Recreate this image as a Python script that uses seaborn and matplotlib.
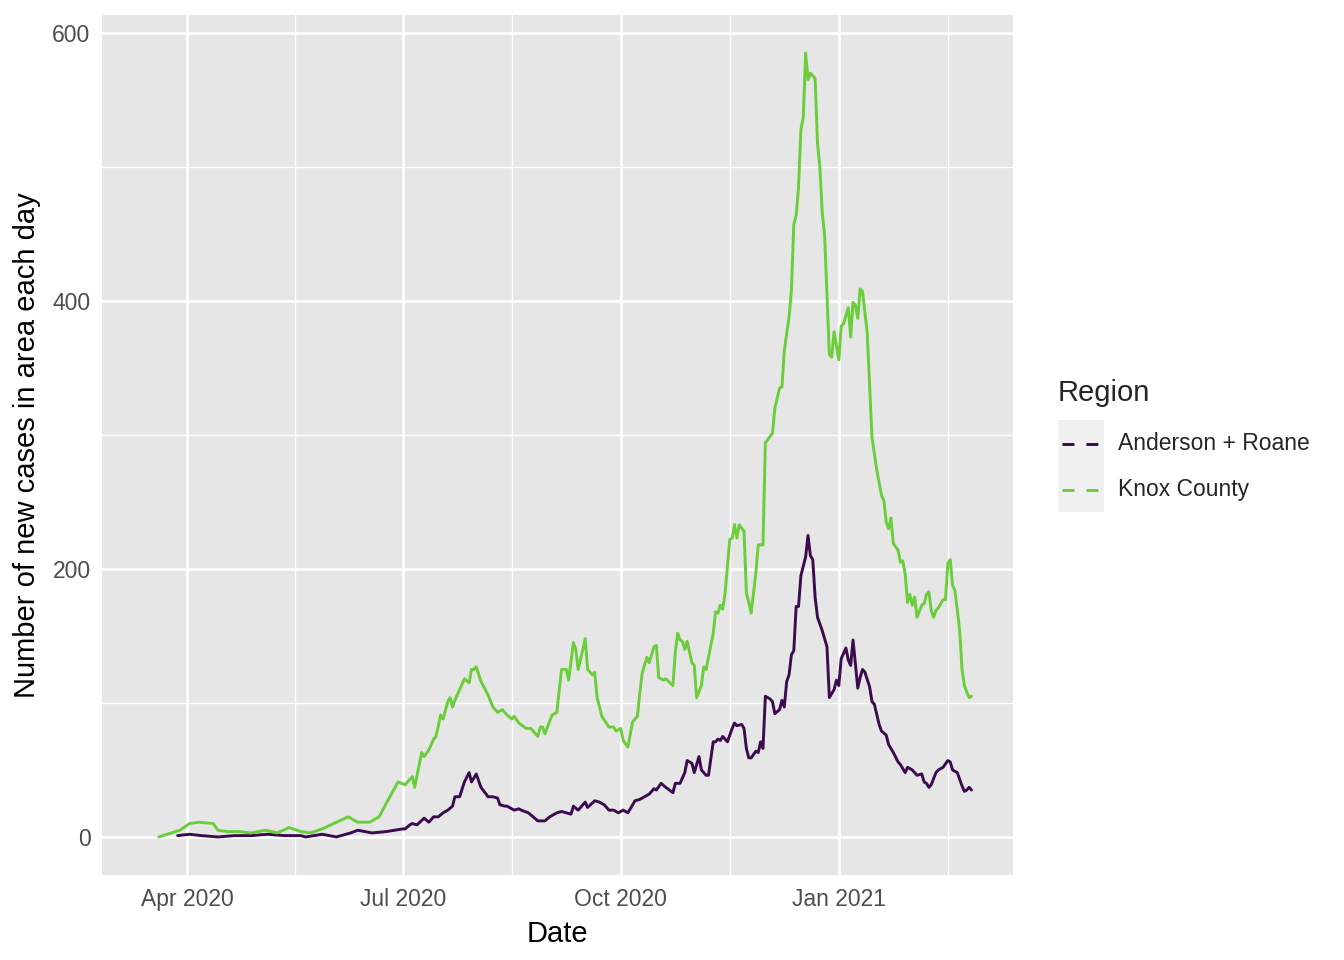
import numpy as np
import pandas as pd
import seaborn as sns
import matplotlib
matplotlib.use("Agg")
import matplotlib.pyplot as plt
import matplotlib.dates as mdates
from matplotlib.lines import Line2D
from matplotlib.patches import Rectangle

# ---- data ----
knox_dates = [
    "2020-03-20", "2020-03-29", "2020-04-02", "2020-04-06", "2020-04-12", "2020-04-14", "2020-04-18",
    "2020-04-23", "2020-04-28", "2020-05-04", "2020-05-09", "2020-05-14", "2020-05-19", "2020-05-23",
    "2020-05-28", "2020-06-03", "2020-06-08", "2020-06-12", "2020-06-17", "2020-06-21", "2020-06-24",
    "2020-06-29", "2020-07-02", "2020-07-05", "2020-07-06", "2020-07-09", "2020-07-10", "2020-07-12",
    "2020-07-14", "2020-07-15", "2020-07-17", "2020-07-18", "2020-07-20", "2020-07-21", "2020-07-22",
    "2020-07-23", "2020-07-25", "2020-07-27", "2020-07-29", "2020-07-30", "2020-07-31", "2020-08-01",
    "2020-08-03", "2020-08-06", "2020-08-08", "2020-08-10", "2020-08-12", "2020-08-14", "2020-08-16",
    "2020-08-17", "2020-08-19", "2020-08-22", "2020-08-24", "2020-08-27", "2020-08-28", "2020-08-29",
    "2020-08-30", "2020-09-02", "2020-09-04", "2020-09-06", "2020-09-08", "2020-09-09", "2020-09-11",
    "2020-09-12", "2020-09-13", "2020-09-15", "2020-09-16", "2020-09-17", "2020-09-19", "2020-09-20",
    "2020-09-21", "2020-09-23", "2020-09-26", "2020-09-28", "2020-09-29", "2020-10-01", "2020-10-02",
    "2020-10-04", "2020-10-06", "2020-10-08", "2020-10-09", "2020-10-10", "2020-10-12", "2020-10-13",
    "2020-10-15", "2020-10-16", "2020-10-17", "2020-10-19", "2020-10-20", "2020-10-23", "2020-10-24",
    "2020-10-25", "2020-10-26", "2020-10-27", "2020-10-28", "2020-10-29", "2020-10-31", "2020-11-01",
    "2020-11-02", "2020-11-04", "2020-11-05", "2020-11-06", "2020-11-07", "2020-11-09", "2020-11-10",
    "2020-11-11", "2020-11-12", "2020-11-13", "2020-11-14", "2020-11-16", "2020-11-17", "2020-11-18",
    "2020-11-19", "2020-11-20", "2020-11-22", "2020-11-23", "2020-11-24", "2020-11-25", "2020-11-27",
    "2020-11-28", "2020-11-30", "2020-12-01", "2020-12-03", "2020-12-04", "2020-12-05", "2020-12-07",
    "2020-12-08", "2020-12-09", "2020-12-11", "2020-12-12", "2020-12-13", "2020-12-14", "2020-12-15",
    "2020-12-16", "2020-12-17", "2020-12-18", "2020-12-19", "2020-12-20", "2020-12-22", "2020-12-23",
    "2020-12-24", "2020-12-25", "2020-12-26", "2020-12-28", "2020-12-29", "2020-12-30", "2021-01-01",
    "2021-01-02", "2021-01-03", "2021-01-05", "2021-01-06", "2021-01-07", "2021-01-08", "2021-01-09",
    "2021-01-10", "2021-01-11", "2021-01-13", "2021-01-15", "2021-01-17", "2021-01-19", "2021-01-20",
    "2021-01-21", "2021-01-22", "2021-01-23", "2021-01-24", "2021-01-26", "2021-01-27", "2021-01-28",
    "2021-01-29", "2021-01-30", "2021-01-31", "2021-02-01", "2021-02-02", "2021-02-03", "2021-02-05",
    "2021-02-06", "2021-02-07", "2021-02-08", "2021-02-09", "2021-02-10", "2021-02-11", "2021-02-12",
    "2021-02-14", "2021-02-15", "2021-02-16", "2021-02-17", "2021-02-18", "2021-02-19", "2021-02-21",
    "2021-02-22", "2021-02-23", "2021-02-24", "2021-02-25", "2021-02-26",
]
knox_cases = [
    0, 5, 10, 11, 10, 5, 4,
    4, 3, 5, 3, 7, 4, 3,
    6, 11, 15, 11, 11, 15, 25,
    41, 39, 45, 37, 63, 60, 65,
    73, 75, 91, 88, 101, 104, 97,
    102, 110, 118, 115, 125, 125, 127,
    116, 106, 97, 93, 95, 91, 88,
    90, 85, 81, 81, 75, 82, 82,
    77, 91, 93, 125, 125, 117, 145,
    140, 125, 140, 148, 125, 121, 123,
    104, 90, 82, 82, 79, 81, 72,
    67, 86, 90, 107, 122, 134, 130,
    142, 143, 119, 117, 118, 113, 138,
    152, 147, 146, 140, 146, 130, 128,
    104, 113, 127, 125, 134, 152, 168,
    167, 173, 170, 182, 222, 223, 233,
    223, 233, 228, 182, 175, 167, 197,
    218, 218, 294, 299, 301, 320, 335,
    336, 363, 388, 408, 457, 464, 485,
    528, 537, 585, 565, 570, 566, 518,
    500, 466, 449, 360, 358, 377, 356,
    381, 383, 395, 373, 399, 397, 387,
    409, 407, 376, 298, 274, 255, 251,
    235, 230, 238, 219, 214, 205, 206,
    196, 175, 181, 173, 179, 164, 173,
    174, 181, 183, 169, 164, 169, 171,
    177, 177, 204, 207, 188, 184, 154,
    125, 113, 108, 104, 105,
]

ar_dates = [
    "2020-03-28", "2020-04-02", "2020-04-07", "2020-04-14", "2020-04-21", "2020-04-28", "2020-05-05",
    "2020-05-12", "2020-05-19", "2020-05-21", "2020-05-28", "2020-06-03", "2020-06-09", "2020-06-12",
    "2020-06-18", "2020-06-24", "2020-07-01", "2020-07-02", "2020-07-04", "2020-07-05", "2020-07-07",
    "2020-07-10", "2020-07-12", "2020-07-14", "2020-07-16", "2020-07-18", "2020-07-20", "2020-07-22",
    "2020-07-23", "2020-07-25", "2020-07-27", "2020-07-29", "2020-07-30", "2020-08-01", "2020-08-03",
    "2020-08-06", "2020-08-08", "2020-08-10", "2020-08-11", "2020-08-13", "2020-08-14", "2020-08-17",
    "2020-08-19", "2020-08-20", "2020-08-23", "2020-08-25", "2020-08-27", "2020-08-30", "2020-09-01",
    "2020-09-04", "2020-09-06", "2020-09-08", "2020-09-10", "2020-09-11", "2020-09-13", "2020-09-15",
    "2020-09-16", "2020-09-17", "2020-09-20", "2020-09-22", "2020-09-24", "2020-09-26", "2020-09-28",
    "2020-09-30", "2020-10-02", "2020-10-04", "2020-10-07", "2020-10-09", "2020-10-11", "2020-10-13",
    "2020-10-15", "2020-10-16", "2020-10-18", "2020-10-20", "2020-10-23", "2020-10-24", "2020-10-26",
    "2020-10-28", "2020-10-29", "2020-10-31", "2020-11-01", "2020-11-03", "2020-11-04", "2020-11-06",
    "2020-11-07", "2020-11-09", "2020-11-10", "2020-11-11", "2020-11-12", "2020-11-13", "2020-11-15",
    "2020-11-17", "2020-11-18", "2020-11-19", "2020-11-21", "2020-11-22", "2020-11-23", "2020-11-24",
    "2020-11-25", "2020-11-27", "2020-11-28", "2020-11-29", "2020-11-30", "2020-12-01", "2020-12-03",
    "2020-12-04", "2020-12-05", "2020-12-07", "2020-12-08", "2020-12-09", "2020-12-10", "2020-12-11",
    "2020-12-12", "2020-12-13", "2020-12-14", "2020-12-15", "2020-12-16", "2020-12-17", "2020-12-18",
    "2020-12-19", "2020-12-20", "2020-12-21", "2020-12-22", "2020-12-23", "2020-12-25", "2020-12-27",
    "2020-12-28", "2020-12-30", "2020-12-31", "2021-01-01", "2021-01-02", "2021-01-04", "2021-01-05",
    "2021-01-06", "2021-01-07", "2021-01-09", "2021-01-10", "2021-01-11", "2021-01-12", "2021-01-14",
    "2021-01-15", "2021-01-16", "2021-01-18", "2021-01-19", "2021-01-21", "2021-01-22", "2021-01-24",
    "2021-01-26", "2021-01-27", "2021-01-29", "2021-01-30", "2021-02-01", "2021-02-03", "2021-02-05",
    "2021-02-06", "2021-02-07", "2021-02-08", "2021-02-09", "2021-02-11", "2021-02-12", "2021-02-14",
    "2021-02-16", "2021-02-17", "2021-02-18", "2021-02-20", "2021-02-21", "2021-02-22", "2021-02-23",
    "2021-02-24", "2021-02-25", "2021-02-26",
]
ar_cases = [
    1, 2, 1, 0, 1, 1, 2,
    1, 1, 0, 2, 0, 3, 5,
    3, 4, 6, 6, 9, 10, 9,
    14, 11, 15, 15, 18, 20, 23,
    30, 30, 41, 48, 41, 47, 37,
    30, 30, 29, 24, 23, 23, 20,
    21, 20, 18, 15, 12, 12, 15,
    18, 19, 18, 17, 23, 20, 24,
    26, 22, 27, 26, 24, 20, 20,
    18, 20, 18, 27, 28, 30, 32,
    36, 35, 40, 37, 33, 40, 40,
    48, 57, 55, 48, 60, 50, 46,
    46, 71, 71, 73, 72, 75, 71,
    81, 85, 83, 84, 81, 66, 59,
    59, 64, 63, 71, 66, 105, 103,
    101, 92, 95, 102, 97, 116, 121,
    136, 139, 172, 172, 195, 202, 209,
    225, 210, 207, 179, 164, 154, 142,
    104, 110, 117, 113, 133, 141, 132,
    128, 147, 111, 119, 125, 123, 112,
    101, 99, 84, 79, 76, 69, 63,
    56, 54, 48, 52, 50, 46, 47,
    41, 40, 37, 39, 48, 50, 52,
    57, 56, 50, 48, 43, 38, 34,
    35, 37, 35,
]

regions = ["Anderson + Roane", "Knox County"]
colors = ["#3B0A4F", "#6ACD3A"]

df = pd.concat([
    pd.DataFrame({"Date": pd.to_datetime(ar_dates), "cases": ar_cases, "Region": regions[0]}),
    pd.DataFrame({"Date": pd.to_datetime(knox_dates), "cases": knox_cases, "Region": regions[1]}),
])

# ---- ggplot2 grey theme look ----
sns.set_style("white")
plt.rcParams["font.family"] = ["Liberation Sans", "DejaVu Sans"]

W, H = 1344, 960
fig = plt.figure(figsize=(W / 100, H / 100), dpi=100)
left, right, top, bottom = 102, 1013, 15, 875
ax = fig.add_axes([left / W, 1 - bottom / H, (right - left) / W, (bottom - top) / H])
ax.set_facecolor("#E6E6E6")
for s in ax.spines.values():
    s.set_visible(False)

lw = 2.1
sns.lineplot(data=df, x="Date", y="cases", hue="Region", palette=dict(zip(regions, colors)),
             linewidth=lw, estimator=None, sort=True, legend=False, ax=ax)

ax.set_xlim(pd.Timestamp("2020-02-25 02:00"), pd.Timestamp("2021-03-15 12:00"))
ax.set_ylim(-28.4, 613.4)

# axes ticks and grid
major_x = pd.to_datetime(["2020-04-01", "2020-07-01", "2020-10-01", "2021-01-01"])
mx = mdates.date2num(major_x)
minor_x = list((mx[:-1] + mx[1:]) / 2) + [mx[-1] + (mx[-1] - mx[-2]) / 2]
ax.set_xticks(mx)
ax.set_xticklabels([d.strftime("%b %Y") for d in major_x])
ax.set_xticks(minor_x, minor=True)
ax.set_yticks([0, 200, 400, 600])
ax.set_yticks([100, 300, 500], minor=True)

ax.grid(which="major", color="white", linewidth=1.9)
ax.grid(which="minor", color="white", linewidth=0.95)
ax.set_axisbelow(True)
ax.tick_params(which="major", length=5.2, width=1.0, color="#333333",
               labelsize=16.5, labelcolor="#4D4D4D")
ax.tick_params(axis="x", which="major", pad=4.5)
ax.tick_params(axis="y", which="major", pad=3)
ax.tick_params(which="minor", length=0)

ax.set_xlabel("Date", fontsize=21, color="black", labelpad=6)
ax.set_ylabel("Number of new cases in area each day", fontsize=21, color="black", labelpad=8)

# legend (ggplot style, dashed keys on grey key background)
fig.text(1058 / W, 1 - 393 / H, "Region", fontsize=21, ha="left", va="center")
fig.patches.append(Rectangle((1058 / W, 1 - 512 / H), 46 / W, 92 / H,
                             transform=fig.transFigure, facecolor="#F0F0F0", edgecolor="none"))
for i, (lab, col) in enumerate(zip(regions, colors)):
    yy = 1 - (444 + 46 * i) / H
    fig.lines.append(Line2D([1062 / W, 1098 / W], [yy, yy], transform=fig.transFigure,
                            color=col, linewidth=lw, linestyle=(0, (4.1, 4.1))))
    fig.text(1118 / W, yy, lab, fontsize=16.5, ha="left", va="center")

fig.savefig("out.png", dpi=100)
